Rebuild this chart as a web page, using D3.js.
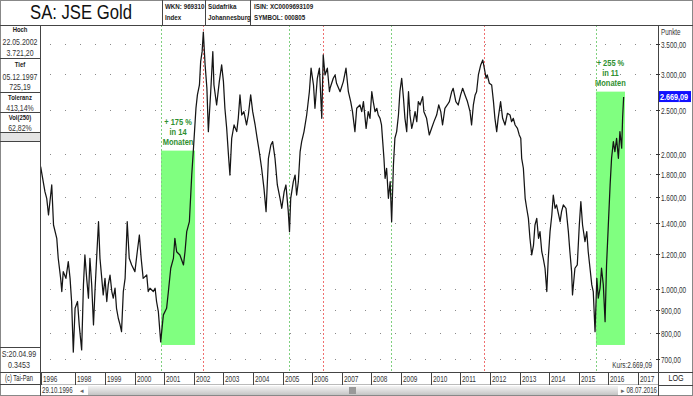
<!DOCTYPE html>
<html>
<head>
<meta charset="utf-8">
<script src="https://cdn.jsdelivr.net/npm/d3@7"></script>
<style>
  body { margin: 0; background: #fff; }
  svg { display: block; }
  text { font-family: 'Liberation Sans', Arial, sans-serif; fill: #222; }
</style>
</head>
<body>
<svg id="chart" width="693" height="396"></svg>
<script>
// closes: [decimal year, index points]
const closes = [
  [1996.825,1870],[1996.97,1646],[1997.03,1591],[1997.09,1461],[1997.20,1703],[1997.26,1388],[1997.37,1297],
  [1997.42,1171],[1997.50,1057],[1997.54,988],[1997.59,1094],[1997.68,1057],[1997.76,1151],[1997.82,1057],
  [1997.87,939],[1997.93,725],[1997.99,907],[1998.07,939],[1998.13,833],[1998.21,733],[1998.27,1022],
  [1998.32,1191],[1998.38,1057],[1998.44,955],[1998.49,1171],[1998.55,1022],[1998.61,833],[1998.66,988],
  [1998.74,1253],[1998.78,1412],[1998.83,1171],[1998.89,1057],[1998.94,971],[1999.00,1057],[1999.06,939],
  [1999.11,1022],[1999.17,1075],[1999.23,988],[1999.28,955],[1999.34,1005],[1999.39,907],[1999.45,862],
  [1999.51,833],[1999.56,805],[1999.62,988],[1999.68,1057],[1999.75,1412],[1999.82,1171],[1999.90,1132],
  [2000.01,1094],[2000.09,1211],[2000.16,1319],[2000.22,1171],[2000.29,1057],[2000.41,1075],[2000.46,988],
  [2000.52,1005],[2000.63,988],[2000.69,1005],[2000.74,939],[2000.80,892],[2000.88,764],[2000.97,877],
  [2001.08,907],[2001.14,988],[2001.22,1113],[2001.31,1171],[2001.36,1297],[2001.42,1211],[2001.53,1191],
  [2001.65,1132],[2001.70,1211],[2001.76,1342],[2001.85,1412],[2001.93,1792],[2001.98,2020],[2002.07,2520],
  [2002.12,2698],[2002.19,2839],[2002.23,3199],[2002.28,3366],[2002.32,3721],[2002.38,3145],[2002.44,2791],
  [2002.49,2237],[2002.57,2743],[2002.64,3366],[2002.68,2839],[2002.77,2563],[2002.86,2888],[2002.94,3145],
  [2003.00,2888],[2003.05,2520],[2003.11,2275],[2003.17,1985],[2003.22,1792],[2003.28,2162],[2003.36,2314],
  [2003.45,2237],[2003.50,2394],[2003.56,2698],[2003.62,2435],[2003.69,2477],[2003.78,2314],[2003.84,2435],
  [2003.92,2698],[2003.99,2477],[2004.07,2314],[2004.14,2162],[2004.21,2020],[2004.29,1855],[2004.37,1674],
  [2004.44,1486],[2004.52,1952],[2004.60,2089],[2004.66,2125],[2004.74,1952],[2004.82,1703],[2004.91,1591],
  [2004.97,1512],[2005.05,1646],[2005.11,1703],[2005.19,1486],[2005.23,1342],[2005.27,1591],[2005.36,1732],
  [2005.42,1792],[2005.47,1618],[2005.53,1732],[2005.59,2020],[2005.64,2125],[2005.72,2237],[2005.81,2435],
  [2005.90,2743],[2005.96,3093],[2006.04,2839],[2006.09,2520],[2006.17,2938],[2006.24,3093],[2006.32,2394],
  [2006.37,3309],[2006.43,2988],[2006.51,3093],[2006.58,2743],[2006.60,2791],[2006.71,2938],[2006.77,2988],
  [2006.82,2864],[2006.94,2743],[2007.05,2888],[2007.14,3093],[2007.22,2743],[2007.30,2608],[2007.36,2477],
  [2007.44,2237],[2007.50,2520],[2007.61,2563],[2007.67,2477],[2007.73,2608],[2007.82,2275],[2007.89,2477],
  [2007.95,2394],[2008.01,2743],[2008.06,2608],[2008.12,2477],[2008.18,2520],[2008.23,2435],[2008.29,2394],
  [2008.34,2314],[2008.38,2125],[2008.42,1952],[2008.46,1762],[2008.51,1855],[2008.57,1591],[2008.63,1732],
  [2008.68,1412],[2008.74,1886],[2008.79,2162],[2008.85,2237],[2008.91,2435],[2008.96,2743],[2009.02,2938],
  [2009.08,2653],[2009.13,2394],[2009.19,2237],[2009.25,2743],[2009.30,2435],[2009.36,2275],[2009.41,2354],
  [2009.47,2477],[2009.53,2354],[2009.58,2608],[2009.64,2563],[2009.73,2675],[2009.77,2477],[2009.86,2394],
  [2009.95,2199],[2010.03,2275],[2010.11,2354],[2010.20,2435],[2010.27,2563],[2010.34,2477],[2010.40,2314],
  [2010.48,2520],[2010.56,2563],[2010.63,2608],[2010.71,2743],[2010.76,2791],[2010.85,2608],[2010.93,2563],
  [2011.01,2698],[2011.08,2791],[2011.16,2698],[2011.24,2608],[2011.33,2477],[2011.38,2314],[2011.44,2563],
  [2011.50,2698],[2011.55,2743],[2011.61,2988],[2011.69,3145],[2011.76,3226],[2011.81,3093],[2011.87,2938],
  [2011.91,2988],[2011.98,2864],[2012.06,2839],[2012.12,2608],[2012.17,2394],[2012.23,2237],[2012.28,2394],
  [2012.36,2608],[2012.43,2394],[2012.51,2314],[2012.59,2456],[2012.68,2435],[2012.73,2354],[2012.79,2394],
  [2012.85,2314],[2012.93,2275],[2012.99,2199],[2013.04,2162],[2013.07,1952],[2013.13,1855],[2013.19,1591],
  [2013.24,1512],[2013.30,1436],[2013.35,1297],[2013.41,1191],[2013.47,1253],[2013.52,1388],[2013.58,1436],
  [2013.64,1297],[2013.69,1342],[2013.75,1211],[2013.80,1171],[2013.86,1113],[2013.92,988],[2013.97,1171],
  [2014.03,1342],[2014.09,1461],[2014.14,1618],[2014.20,1512],[2014.25,1538],[2014.37,1412],[2014.42,1486],
  [2014.48,1538],[2014.57,1512],[2014.65,1342],[2014.70,1211],[2014.76,1094],[2014.79,971],[2014.87,1113],
  [2014.95,1132],[2015.02,1388],[2015.07,1564],[2015.13,1388],[2015.21,1275],[2015.27,1342],[2015.32,1211],
  [2015.38,1113],[2015.44,1022],[2015.49,988],[2015.55,805],[2015.61,1057],[2015.66,955],[2015.72,1005],
  [2015.77,1113],[2015.83,1022],[2015.89,847],[2015.94,1132],[2016.00,1388],[2016.06,1703],[2016.11,1952],
  [2016.17,2125],[2016.22,2020],[2016.28,2162],[2016.34,1952],[2016.39,2237],[2016.45,2055],[2016.48,2394],
  [2016.516,2669.09]
];

const yTicks = [700, 800, 900, 1000, 1200, 1400, 1600, 1800, 2000, 2500, 3000, 3500];
const yearLabels = [1996, 1998, 1999, 2000, 2001, 2002, 2003, 2004, 2005, 2006, 2007, 2008,
                    2009, 2010, 2011, 2012, 2013, 2014, 2015, 2016, 2017];

// marked lows (green) and highs (red)
const markerYears = [2000.89, 2002.31, 2005.21, 2006.36, 2008.66, 2011.80, 2015.58];
const markerKinds = ["low", "high", "low", "high", "low", "high", "low"];

// rally boxes
const boxFrom = [2000.89, 2015.58];
const boxTo = [2002.04, 2016.56];
const boxLow = [752, 752];
const boxHigh = [2030, 2744];
const boxTexts = [["+ 175 %", "in 14", "Monaten"], ["+ 255 %", "in 11", "Monaten"]];

const statLabels = ["Hoch", "Tief", "Toleranz", "Vol(250)"];
const statValues = [["22.05.2002", "3.721,20"], ["05.12.1997", "725,19"], ["413,14%"], ["62,82%"]];

const lastClose = 2669.09;

const W = 693, H = 396;
const plot = {left: 41, right: 658, top: 25, bottom: 372};

const de = d3.formatLocale({decimal: ",", thousands: ".", grouping: [3], currency: ["", ""]});
const fmt = de.format(",.2f");
const fmtDate = d3.timeFormat("%d.%m.%Y");

// decimal year -> calendar day
function yearToDate(y) {
    const yr = Math.floor(y);
    const days = d3.timeDay.count(new Date(yr, 0, 1), new Date(yr + 1, 0, 1));
    return new Date(yr, 0, 1 + Math.round((y - yr) * days));
}

const x = d3.scaleTime()
    .domain([new Date(1999, 0, 1), new Date(2017, 0, 1)])
    .range([105, 638]);
const y = d3.scaleLog()
    .domain([700, 3500])
    .range([359, 44]);

const svg = d3.select("#chart");

// condensed text helper (the original uses a narrow font)
function label(px, py, s, o = {}) {
    return svg.append("text")
        .attr("transform", `translate(${px},${py}) scale(${o.sx || 0.76},1)`)
        .attr("text-anchor", o.anchor || "start")
        .attr("font-size", o.size || 8.5)
        .attr("font-weight", o.weight || "normal")
        .style("fill", o.fill || "#333")
        .text(s);
}

svg.append("defs").append("clipPath").attr("id", "clip")
  .append("rect")
    .attr("x", plot.left).attr("y", plot.top)
    .attr("width", plot.right - plot.left).attr("height", plot.bottom - plot.top);

// horizontal dotted grid
svg.append("g").selectAll("line").data(yTicks).join("line")
    .attr("x1", 50).attr("x2", plot.right - 3)
    .attr("y1", d => Math.round(y(d)) + 0.5).attr("y2", d => Math.round(y(d)) + 0.5)
    .attr("stroke", "#8a8a8a").attr("stroke-dasharray", "1,14");

// rally boxes
boxFrom.forEach((f, i) => {
    const x0 = x(yearToDate(f)), x1 = x(yearToDate(boxTo[i]));
    const y0 = y(boxHigh[i]), y1 = y(boxLow[i]);
    svg.append("rect")
        .attr("x", x0).attr("y", y0).attr("width", x1 - x0).attr("height", y1 - y0)
        .attr("fill", "#80ff80");
    boxTexts[i].forEach((t, j) => {
        label((x0 + x1) / 2, y0 - 26 + j * 10, t,
              {anchor: "middle", weight: "bold", fill: "#2f8f2f", sx: 0.88});
    });
});

// event markers
svg.append("g").selectAll("line").data(markerYears).join("line")
    .attr("x1", d => Math.round(x(yearToDate(d))) + 0.5)
    .attr("x2", d => Math.round(x(yearToDate(d))) + 0.5)
    .attr("y1", plot.top).attr("y2", plot.bottom)
    .attr("stroke", (d, i) => markerKinds[i] === "low" ? "#7fd07f" : "#f07070")
    .attr("stroke-dasharray", "2,2");

// price line
const line = d3.line()
    .x(d => x(yearToDate(d[0])))
    .y(d => y(d[1]));

svg.append("path")
    .datum(closes)
    .attr("clip-path", "url(#clip)")
    .attr("fill", "none")
    .attr("stroke", "#151515")
    .attr("stroke-width", 1.25)
    .attr("stroke-linejoin", "round")
    .attr("d", line);

// frame lines
const frame = svg.append("g").attr("stroke", "#444").attr("fill", "none");
frame.append("rect").attr("x", 0.5).attr("y", 0.5).attr("width", W - 1).attr("height", H - 1).attr("stroke", "#888");
frame.append("line").attr("x1", 0).attr("x2", W).attr("y1", 25.5).attr("y2", 25.5);
frame.append("line").attr("x1", 40.5).attr("x2", 40.5).attr("y1", 25).attr("y2", H);
frame.append("line").attr("x1", 658.5).attr("x2", 658.5).attr("y1", 25).attr("y2", H);
frame.append("line").attr("x1", 0).attr("x2", W).attr("y1", 372.5).attr("y2", 372.5);
frame.append("line").attr("x1", 41).attr("x2", 658).attr("y1", 384.5).attr("y2", 384.5).attr("stroke", "#bbb");
frame.append("line").attr("x1", 0).attr("x2", 40).attr("y1", 384.5).attr("y2", 384.5);
frame.append("line").attr("x1", 658).attr("x2", W).attr("y1", 385.5).attr("y2", 385.5);
frame.append("line").attr("x1", 0).attr("x2", 40).attr("y1", 347.5).attr("y2", 347.5);
[162.5, 205.5, 250.5].forEach(xx => frame.append("line").attr("x1", xx).attr("x2", xx).attr("y1", 0).attr("y2", 25));

// header
svg.append("text").attr("x", 81).attr("y", 19).attr("text-anchor", "middle")
    .attr("font-size", 20).attr("textLength", 102).attr("lengthAdjust", "spacingAndGlyphs")
    .style("fill", "#111")
    .text("SA: JSE Gold");
const header = [[165, "WKN: 969310", "Index"], [208, "Südafrika", "Johannesburg"], [254, "ISIN: XC0009693109", "SYMBOL: 000805"]];
header.forEach(h => {
    label(h[0], 8.5, h[1], {size: 8, weight: "bold", sx: 0.78, fill: "#222"});
    label(h[0], 19.5, h[2], {size: 8, weight: "bold", sx: 0.78, fill: "#222"});
});

// left stats panel
const statRows = [[29, 41.5, 53], [64, 76.5, 87], [97, 107.5], [117, 127.5]];
const statLines = [58.5, 92.5, 112.5, 132.5, 141.5];
svg.append("rect").attr("x", 1).attr("y", 133).attr("width", 39).attr("height", 8).attr("fill", "#e4e4e4");
statLabels.forEach((lab, i) => {
    label(20, statRows[i][0] + 3, lab, {anchor: "middle", size: 8, weight: "bold", sx: 0.74, fill: "#222"});
    statValues[i].forEach((v, j) => {
        label(20, statRows[i][j + 1] + 3, v, {anchor: "middle", sx: 0.82});
    });
});
statLines.forEach(l => svg.append("line").attr("x1", 0).attr("x2", 40).attr("y1", l).attr("y2", l).attr("stroke", "#444"));

label(19, 357, "S:20.04.99", {anchor: "middle", sx: 0.84});
label(19, 368, "0.3453", {anchor: "middle", sx: 0.84});
label(19, 381, "(c) Tai-Pan", {anchor: "middle", sx: 0.68, fill: "#222"});

// right axis
label(661, 35, "Punkte", {sx: 0.74});
const yAxis = svg.append("g");
yTicks.forEach(t => {
    const yy = Math.round(y(t)) + 0.5;
    yAxis.append("line").attr("x1", 656).attr("x2", 660).attr("y1", yy).attr("y2", yy).attr("stroke", "#333");
    label(661, yy + 3, fmt(t), {sx: 0.76});
});
const ly = y(lastClose);
svg.append("rect").attr("x", 659).attr("y", ly - 6).attr("width", 32).attr("height", 11).attr("fill", "#1010ff");
label(660, ly + 3, fmt(lastClose), {weight: "bold", fill: "#fff", sx: 0.85});
label(676, 381, "LOG", {anchor: "middle", sx: 0.85, fill: "#222"});

label(652, 368, "Kurs:" + fmt(lastClose), {anchor: "end", sx: 0.75});

// x axis years
const xAxis = svg.append("g");
yearLabels.forEach(yr => {
    const xx = Math.max(plot.left, Math.round(x(new Date(yr, 0, 1)))) + 0.5;
    xAxis.append("line").attr("x1", xx).attr("x2", xx).attr("y1", 372).attr("y2", 385).attr("stroke", "#444");
    label(xx + 1.5, 382, yr, {sx: 0.76});
});

// scrollbar strip
const grad = svg.append("defs").append("linearGradient").attr("id", "sb").attr("x1", 0).attr("x2", 0).attr("y1", 0).attr("y2", 1);
grad.append("stop").attr("offset", 0).attr("stop-color", "#f4f4f4");
grad.append("stop").attr("offset", 1).attr("stop-color", "#c4c4c4");
svg.append("rect").attr("x", 88).attr("y", 386).attr("width", 530).attr("height", 9).attr("fill", "url(#sb)");
svg.append("rect").attr("x", 349).attr("y", 387).attr("width", 7).attr("height", 7).attr("fill", "#999");
label(42, 393, fmtDate(yearToDate(closes[0][0])), {sx: 0.72});
label(80, 393, "◂", {size: 7, fill: "#666", sx: 1});
label(621, 393, "▸", {size: 7, fill: "#666", sx: 1});
label(657, 393, fmtDate(yearToDate(closes[closes.length - 1][0])), {anchor: "end", sx: 0.72});
</script>
</body>
</html>
